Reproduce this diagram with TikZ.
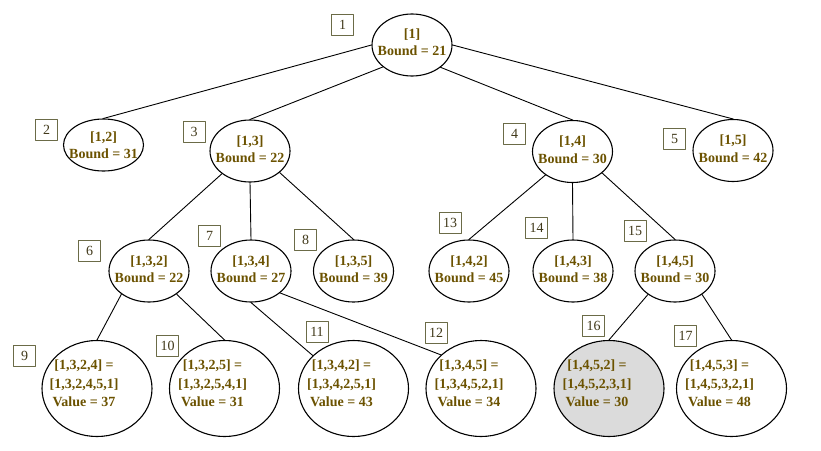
\documentclass[tikz,border=0pt]{standalone}
\usepackage{fontspec}
\setmainfont{Liberation Serif}
\usetikzlibrary{shapes.geometric}
\definecolor{bbtext}{rgb}{0.42,0.32,0.}
\definecolor{bbbox}{rgb}{0.42,0.42,0.28}
\definecolor{bbnum}{rgb}{0.25,0.22,0.10}
\definecolor{bbfill}{rgb}{0.86,0.86,0.86}
\tikzstyle{every node}=[font=\fontsize{14}{17.5}\selectfont]
\tikzstyle{bnode}=[ellipse,draw,line width=1.1pt,minimum width=80pt,minimum height=62pt,inner sep=0pt]
\tikzstyle{leafnode}=[bnode,minimum width=110pt,minimum height=96pt]
\tikzstyle{btext}=[align=center,inner sep=0pt,text=bbtext,font=\fontsize{14}{17.5}\selectfont\bfseries]
\tikzstyle{leaftext}=[btext,font=\fontsize{14}{18.5}\selectfont\bfseries]
\tikzstyle{tag}=[draw=bbbox,line width=1pt,minimum width=22pt,minimum height=21pt,inner sep=0pt,text=bbnum]
\tikzstyle{edge}=[line width=0.9pt]

\begin{document}
\begin{tikzpicture}[line cap=round,line join=round,x=1pt,y=-1pt]
\useasboundingbox (0,0) rectangle (821,450);
% level 1
\node[bnode] (n1) at (412,45) {};
\node[btext] (t1) at ([yshift=3pt]n1) {[1]\\Bound = 21};
% level 2
\node[bnode,minimum height=52pt] (n2) at (103.5,145) {};
\node[btext] (t2) at (n2) {[1,2]\\Bound = 31};
\node[bnode] (n3) at (250,151) {};
\node[btext] (t3) at ([yshift=2pt]n3) {[1,3]\\Bound = 22};
\node[bnode] (n4) at (572.5,151.5) {};
\node[btext] (t4) at ([yshift=2pt]n4) {[1,4]\\Bound = 30};
\node[bnode] (n5) at (733,150.5) {};
\node[btext] (t5) at ([yshift=2pt]n5) {[1,5]\\Bound = 42};
% level 3
\node[bnode] (n6) at (149,271) {};
\node[btext] (t6) at ([yshift=2pt]n6) {[1,3,2]\\Bound = 22};
\node[bnode] (n7) at (251,271) {};
\node[btext] (t7) at ([yshift=2pt]n7) {[1,3,4]\\Bound = 27};
\node[bnode] (n8) at (353.5,271) {};
\node[btext] (t8) at ([yshift=2pt]n8) {[1,3,5]\\Bound = 39};
\node[bnode] (n13) at (469,271) {};
\node[btext] (t13) at ([yshift=2pt]n13) {[1,4,2]\\Bound = 45};
\node[bnode] (n14) at (573,271) {};
\node[btext] (t14) at ([yshift=2pt]n14) {[1,4,3]\\Bound = 38};
\node[bnode] (n15) at (675,271) {};
\node[btext] (t15) at ([yshift=2pt]n15) {[1,4,5]\\Bound = 30};
% level 4
\node[leafnode] (n9) at (97,388.5) {};
\node[leaftext] (t9) at ([shift={(-13,-5)}]n9) {[1,3,2,4] =\\{}[1,3,2,4,5,1]\\Value = 37};
\node[leafnode] (n10) at (224.5,388.5) {};
\node[leaftext] (t10) at ([shift={(-12,-5)}]n10) {[1,3,2,5] =\\{}[1,3,2,5,4,1]\\Value = 31};
\node[leafnode] (n11) at (353.5,388.5) {};
\node[leaftext] (t11) at ([shift={(-12,-5)}]n11) {[1,3,4,2] =\\{}[1,3,4,2,5,1]\\Value = 43};
\node[leafnode] (n12) at (481,388.5) {};
\node[leaftext] (t12) at ([shift={(-12,-5)}]n12) {[1,3,4,5] =\\{}[1,3,4,5,2,1]\\Value = 34};
\node[leafnode,fill=bbfill] (n16) at (609,388.5) {};
\node[leaftext] (t16) at ([shift={(-12,-5)}]n16) {[1,4,5,2] =\\{}[1,4,5,2,3,1]\\Value = 30};
\node[leafnode] (n17) at (731.5,388.5) {};
\node[leaftext] (t17) at ([shift={(-12,-5)}]n17) {[1,4,5,3] =\\{}[1,4,5,3,2,1]\\Value = 48};
% edges
\draw[edge] (n1.west) -- (n2.north);
\draw[edge] (n1.-143) -- (n3.north);
\draw[edge] (n1.-38) -- (n4.north);
\draw[edge] (n1.east) -- (n5.north);
\draw[edge] (n3.-141) -- (n6.north);
\draw[edge] (n3.south) -- (n7.north);
\draw[edge] (n3.-36) -- (n8.north);
\draw[edge] (n4.-139) -- (n13.north);
\draw[edge] (n4.south) -- (n14.north);
\draw[edge] (n4.-36) -- (n15.north);
\draw[edge] (n6.-140) -- (n9.north);
\draw[edge] (n6.-40) -- (n10.north);
\draw[edge] (n7.south) -- (n11.141);
\draw[edge] (n7.-37) -- (n12.140);
\draw[edge] (n15.-139) -- (n16.north);
\draw[edge] (n15.-41) -- (n17.north);
% order numbers
\node[tag] (b1) at (342.5,24.5) {1};
\node[tag] (b2) at (46.5,129.5) {2};
\node[tag] (b3) at (194,132) {3};
\node[tag] (b4) at (514.5,134) {4};
\node[tag] (b5) at (674.5,138.5) {5};
\node[tag] (b6) at (89.5,250.5) {6};
\node[tag] (b7) at (209.5,236) {7};
\node[tag] (b8) at (305.5,240) {8};
\node[tag] (b9) at (24.5,356) {9};
\node[tag] (b10) at (167.5,346) {10};
\node[tag] (b11) at (317,331.5) {11};
\node[tag] (b12) at (436,332.5) {12};
\node[tag] (b13) at (450,222.5) {13};
\node[tag] (b14) at (536.5,227.5) {14};
\node[tag] (b15) at (635,231) {15};
\node[tag] (b16) at (593.5,326) {16};
\node[tag] (b17) at (685.5,336) {17};
\end{tikzpicture}
\end{document}
